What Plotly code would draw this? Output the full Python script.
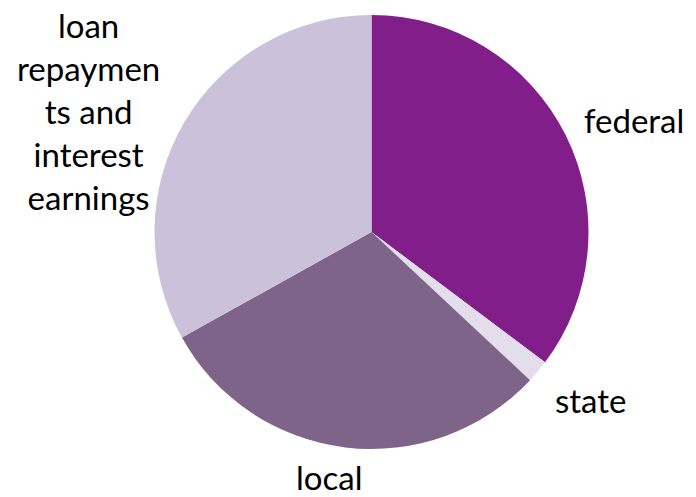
import plotly.graph_objects as go

# Funding sources (share of total, %)
categories = ["federal", "state", "local", "loan repayments and interest earnings"]
shares = [35.25, 1.71, 29.95, 33.09]
slice_colors = ["#811E8A", "#E4DEEC", "#7F648A", "#CBC1DB"]

# Label text as displayed (line-wrapped) and where each label sits, in pixels
label_lines = {
    "federal": ["federal"],
    "state": ["state"],
    "local": ["local"],
    "loan repayments and interest earnings": ["loan", "repaymen", "ts and", "interest", "earnings"],
}
label_pos = {
    "federal": (634, 120),
    "state": (590, 400),
    "local": (329, 477),
    "loan repayments and interest earnings": (88, 111),
}

W, H = 696, 497
cx, cy, r = 371.5, 232, 217

fig = go.Figure(
    go.Pie(
        labels=categories,
        values=shares,
        sort=False,
        direction="clockwise",
        rotation=0,
        marker=dict(colors=slice_colors, line=dict(width=0)),
        textinfo="none",
        hoverinfo="label+percent",
        domain=dict(
            x=[(cx - r) / W, (cx + r) / W],
            y=[1 - (cy + r) / H, 1 - (cy - r) / H],
        ),
        showlegend=False,
    )
)

for cat in categories:
    px, py = label_pos[cat]
    fig.add_annotation(
        x=px / W,
        y=1 - py / H,
        xref="paper",
        yref="paper",
        text="<br>".join(label_lines[cat]),
        showarrow=False,
        xanchor="center",
        yanchor="middle",
        align="center",
        font=dict(family="Lato", size=33, color="#000000"),
    )

fig.update_layout(
    width=W,
    height=H,
    margin=dict(l=0, r=0, t=0, b=0),
    paper_bgcolor="#FFFFFF",
    plot_bgcolor="#FFFFFF",
)

fig.write_html("out.html")
